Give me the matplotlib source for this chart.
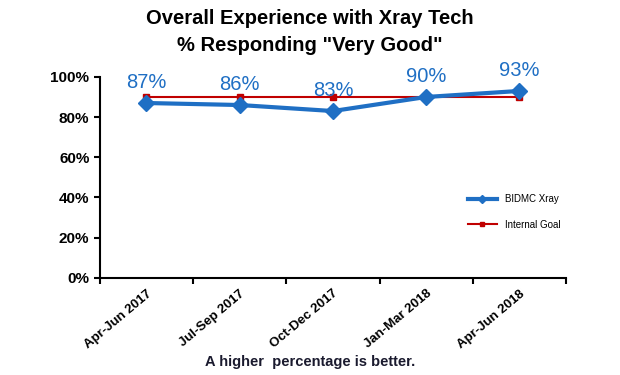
import matplotlib
matplotlib.use("Agg")
import matplotlib.pyplot as plt
from matplotlib.ticker import FixedLocator, PercentFormatter

plt.rcParams['font.family'] = ['Liberation Sans', 'DejaVu Sans']

quarters = ['Apr-Jun 2017', 'Jul-Sep 2017', 'Oct-Dec 2017', 'Jan-Mar 2018', 'Apr-Jun 2018']
xray = [87, 86, 83, 90, 93]
goal = [90, 90, 90, 90, 90]

blue = '#1f6fc4'
red = '#c00000'

fig = plt.figure(figsize=(6.2, 3.75), dpi=100)
ax = fig.add_axes([0.161, 0.259, 0.752, 0.536])

x = list(range(len(quarters)))
ax.plot(x, xray, color=blue, lw=3, marker='D', ms=8, label='BIDMC Xray', zorder=3)
ax.plot(x, goal, color=red, lw=1.5, marker='s', ms=5, label='Internal Goal', zorder=2)

for xi, v in zip(x, xray):
    ax.annotate(f'{v}%', (xi, v), xytext=(0, 8), textcoords='offset points',
                ha='center', va='bottom', color=blue, fontsize=14.5)

ax.set_xlim(-0.5, len(quarters) - 0.5)
ax.set_ylim(0, 100)
ax.yaxis.set_major_locator(FixedLocator([0, 20, 40, 60, 80, 100]))
ax.yaxis.set_major_formatter(PercentFormatter(decimals=0))
ax.xaxis.set_major_locator(FixedLocator([i - 0.5 for i in range(len(quarters) + 1)]))
ax.xaxis.set_major_formatter(plt.NullFormatter())
ax.set_xticks(x, minor=True)
ax.set_xticklabels(quarters, minor=True, rotation=40, ha='right', rotation_mode='anchor',
                   fontsize=9.5, fontweight='bold')
ax.tick_params(axis='x', which='minor', length=0, pad=7)
ax.tick_params(axis='both', which='major', direction='out', length=4, width=1.5)
for lbl in ax.get_yticklabels():
    lbl.set_fontweight('bold')
    lbl.set_fontsize(11)

for side in ('top', 'right'):
    ax.spines[side].set_visible(False)
for side in ('left', 'bottom'):
    ax.spines[side].set_linewidth(1.5)

leg = ax.legend(loc='upper left', bbox_to_anchor=(0.77, 0.46), frameon=False,
                fontsize=7, handlelength=3, labelspacing=1.6, markerscale=0.5)

fig.text(0.5, 0.975, 'Overall Experience with Xray Tech\n% Responding "Very Good"',
         ha='center', va='top', fontsize=14.5, fontweight='bold', linespacing=1.5)
fig.text(0.5, 0.035, 'A higher  percentage is better.', ha='center', va='center',
         fontsize=10.5, fontweight='bold', color='#1a1a2e')

fig.savefig('out.png', dpi=100)
